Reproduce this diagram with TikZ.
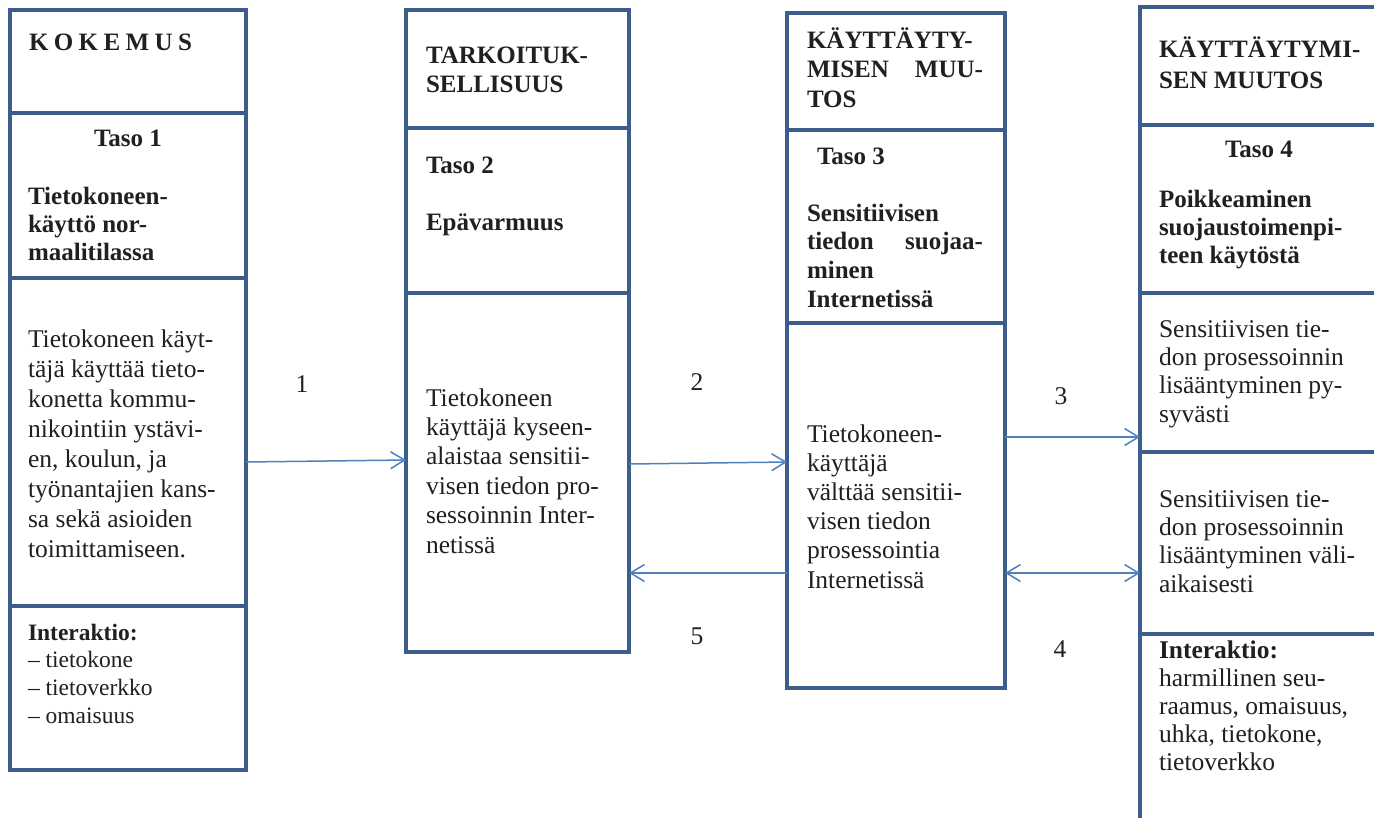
\documentclass[tikz,border=0pt]{standalone}
\usepackage{fontspec}
\setmainfont{Liberation Serif}
\usetikzlibrary{arrows.meta}

\definecolor{boxblue}{HTML}{3B5E8C}
\definecolor{arrblue}{HTML}{4F81BD}
\definecolor{ink}{HTML}{231F20}

% one cell of a column: name, top-left x/y, bottom-right x/y (y grows downward)
\newcommand\cellat[5]{%
  \node[cellbox, minimum width={(#4-#2)*1pt}, minimum height={(#5-#3)*1pt}] (#1) at (#2,#3) {};}
% a block of lines stacked at a fixed baseline distance
\newcommand\blk[2]{\vtop{\baselineskip=#1pt\relax #2}}
\newcommand\li[1]{\hbox{#1}}

\tikzset{
  cellbox/.style={draw=boxblue, line width=4pt, inner sep=0pt, outer sep=0pt, anchor=north west},
  txt/.style={inner sep=0pt, outer sep=0pt, anchor=base west, text=ink, font=\fontsize{25.5}{29}\selectfont},
  btxt/.style={txt, font=\fontsize{25}{29}\selectfont\bfseries},
  stxt/.style={txt, font=\fontsize{23.5}{27}\selectfont},
  num/.style={inner sep=0pt, anchor=base, text=ink, font=\fontsize{25.5}{29}\selectfont},
  conn/.style={draw=arrblue, line width=1.5pt, -{Straight Barb[length=14pt,width=17pt]}},
  conn2/.style={draw=arrblue, line width=1.5pt, {Straight Barb[length=14pt,width=17pt]}-{Straight Barb[length=14pt,width=17pt]}},
}

\begin{document}
\begin{tikzpicture}[x=1pt,y=-1pt]
\useasboundingbox[fill=white] (0,0) rectangle (1374,817);
\begin{scope}
\clip (0,0) rectangle (1374,817);

% column 1
\cellat{aHead}{10}{10}{246}{113}
\cellat{aLevel}{10}{113}{246}{278}
\cellat{aBody}{10}{278}{246}{606}
\cellat{aInter}{10}{606}{246}{770}
% column 2
\cellat{bHead}{406}{10}{629}{128}
\cellat{bLevel}{406}{128}{629}{293}
\cellat{bBody}{406}{293}{629}{652}
% column 3
\cellat{cHead}{787}{13}{1005}{130}
\cellat{cLevel}{787}{130}{1005}{323}
\cellat{cBody}{787}{323}{1005}{688}
% column 4
\cellat{dHead}{1140}{7}{1410}{125}
\cellat{dLevel}{1140}{125}{1410}{293}
\cellat{dPerm}{1140}{293}{1410}{452}
\cellat{dTemp}{1140}{452}{1410}{634}
\cellat{dInter}{1140}{634}{1410}{850}
\end{scope}

% column 1 texts
\node[btxt] (aHeadT) at (29,50) {\hbox to 163pt{K\hfill O\hfill K\hfill E\hfill M\hfill U\hfill S}};
\node[btxt, anchor=base] (aTaso) at (128,146) {Taso 1};
\node[btxt] (aLevelT) at (28,204) {\blk{28}{\li{Tietokoneen-}\li{käyttö nor-}\li{maalitilassa}}};
\node[txt] (aBodyT) at (28,347) {\blk{30}{\li{Tietokoneen käyt-}\li{täjä käyttää tieto-}\li{konetta kommu-}\li{nikointiin ystävi-}\li{en, koulun, ja}\li{työnantajien kans-}\li{sa sekä asioiden}\li{toimittamiseen.}}};
\node[stxt] (aInterT) at (28,640) {\blk{27.7}{\li{\bfseries Interaktio:}\li{– tietokone}\li{– tietoverkko}\li{– omaisuus}}};

% column 2 texts
\node[btxt] (bHeadT) at (426,63) {\blk{29}{\li{TARKOITUK-}\li{SELLISUUS}}};
\node[btxt] (bTaso) at (426,173) {Taso 2};
\node[btxt] (bLevelT) at (426,230) {Epävarmuus};
\node[txt] (bBodyT) at (426,406) {\blk{29.4}{\li{Tietokoneen}\li{käyttäjä kyseen-}\li{alaistaa sensitii-}\li{visen tiedon pro-}\li{sessoinnin Inter-}\li{netissä}}};

% column 3 texts
\node[btxt] (cHeadT) at (807,48) {\blk{29.5}{\li{KÄYTTÄYTY-}\hbox to 176pt{MISEN\hfill MUU-}\li{TOS}}};
\node[btxt] (cTaso) at (817,164) {Taso 3};
\node[btxt] (cLevelT) at (807,221) {\blk{28.7}{\li{Sensitiivisen}\hbox to 176pt{tiedon\hfill suojaa-}\li{minen}\li{Internetissä}}};
\node[txt] (cBodyT) at (807,442) {\blk{29.2}{\li{Tietokoneen-}\li{käyttäjä}\li{välttää sensitii-}\li{visen tiedon}\li{prosessointia}\li{Internetissä}}};

% column 4 texts
\node[btxt] (dHeadT) at (1159,57) {\blk{31}{\li{KÄYTTÄYTYMI-}\li{SEN MUUTOS}}};
\node[btxt, anchor=base] (dTaso) at (1259,157) {Taso 4};
\node[btxt] (dLevelT) at (1159,207) {\blk{28}{\li{Poikkeaminen}\li{suojaustoimenpi-}\li{teen käytöstä}}};
\node[txt] (dPermT) at (1159,337) {\blk{28.4}{\li{Sensitiivisen tie-}\li{don prosessoinnin}\li{lisääntyminen py-}\li{syvästi}}};
\node[txt] (dTempT) at (1159,507) {\blk{28.4}{\li{Sensitiivisen tie-}\li{don prosessoinnin}\li{lisääntyminen väli-}\li{aikaisesti}}};
\node[txt] (dInterT) at (1159,658) {\blk{28}{\li{\bfseries Interaktio:}\li{harmillinen seu-}\li{raamus, omaisuus,}\li{uhka, tietokone,}\li{tietoverkko}}};

% connectors between the columns
\draw[conn] (aBody.east |- 0,462) -- (bBody.west |- 0,460);
\draw[conn] (bBody.east |- 0,464) -- (cBody.west |- 0,462);
\draw[conn] (cBody.west |- 0,573) -- (bBody.east |- 0,573);
\draw[conn] (cBody.east |- 0,437) -- (dPerm.west |- 0,437);
\draw[conn2] (cBody.east |- 0,573) -- (dTemp.west |- 0,573);

% connector numbers
\node[num] (n1) at (302,392) {1};
\node[num] (n2) at (697,390) {2};
\node[num] (n5) at (697,644) {5};
\node[num] (n3) at (1061,404) {3};
\node[num] (n4) at (1060,657) {4};
\end{tikzpicture}
\end{document}
